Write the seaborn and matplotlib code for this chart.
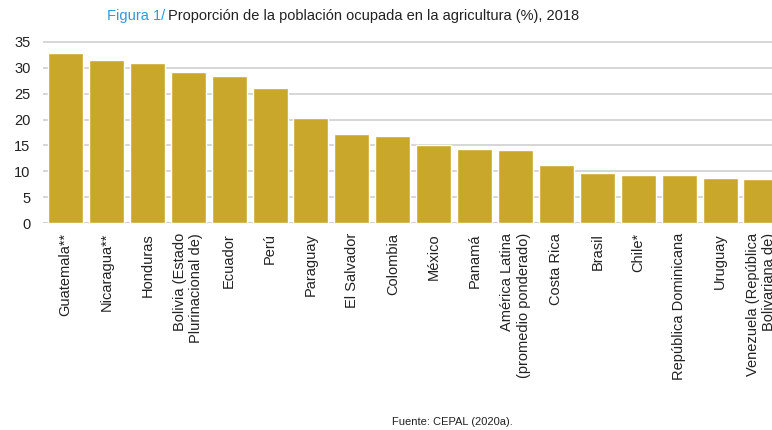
import matplotlib
matplotlib.use("Agg")
import matplotlib.pyplot as plt
import seaborn as sns
import pandas as pd

categories = [
    "Guatemala**", "Nicaragua**", "Honduras", "Bolivia (Estado\nPlurinacional de)",
    "Ecuador", "Perú", "Paraguay", "El Salvador", "Colombia", "México", "Panamá",
    "América Latina\n(promedio ponderado)", "Costa Rica", "Brasil", "Chile*",
    "República Dominicana", "Uruguay", "Venezuela (República\nBolivariana de)",
]
values = [32.9, 31.5, 30.9, 29.1, 28.3, 26.1, 20.3, 17.3, 16.8, 15.0, 14.3,
          14.1, 11.2, 9.6, 9.4, 9.4, 8.7, 8.5]
yticks = [0, 5, 10, 15, 20, 25, 30, 35]

sns.set_theme(style="white")
plt.rcParams['font.family'] = ['Liberation Sans Narrow', 'Liberation Sans', 'DejaVu Sans']

df = pd.DataFrame({"pais": categories, "valor": values})

fig = plt.figure(figsize=(7.72, 4.30), dpi=100)
ax = fig.add_axes([43 / 772, 1 - 223.3 / 430, 1 - 43 / 772, (223.3 - 40.1) / 430])

sns.barplot(data=df, x="pais", y="valor", color="#C9A72B", saturation=1,
            width=0.855, ax=ax, zorder=3)

ax.set_xlim(-0.55, 17.27)
ax.set_ylim(0, 35.3)
ax.set_yticks(yticks)
ax.set_yticklabels([str(v) for v in yticks], fontsize=10.5, color="#222222")
ax.yaxis.grid(True, color="#cfcfcf", linewidth=1.2, zorder=0)
ax.xaxis.grid(False)
for s in ax.spines.values():
    s.set_visible(False)
ax.axhline(0, color="#cfcfcf", linewidth=1.2, zorder=2)
ax.tick_params(axis="y", length=0, pad=9)
ax.tick_params(axis="x", length=0, pad=7)
ax.set_xlabel("")
ax.set_ylabel("")
ax.set_xticks(range(len(categories)))
ax.set_xticklabels(categories, rotation=90, fontsize=10.5, color="#222222",
                   multialignment="right")

t1 = fig.text(107 / 772, 1 - 16 / 430, "Figura 1/", color="#2E9BD6",
              fontsize=10.5, va="center", ha="left")
fig.canvas.draw()
bb = t1.get_window_extent()
fig.text((bb.x1 + 3) / 772, 1 - 16 / 430,
         "Proporción de la población ocupada en la agricultura (%), 2018",
         color="#222222", fontsize=10.5, va="center", ha="left")

fig.text(392 / 772, 1 - 422 / 430, "Fuente: CEPAL (2020a).", fontsize=8,
         color="#222222", va="center", ha="left")

fig.savefig("out.png", dpi=100)
